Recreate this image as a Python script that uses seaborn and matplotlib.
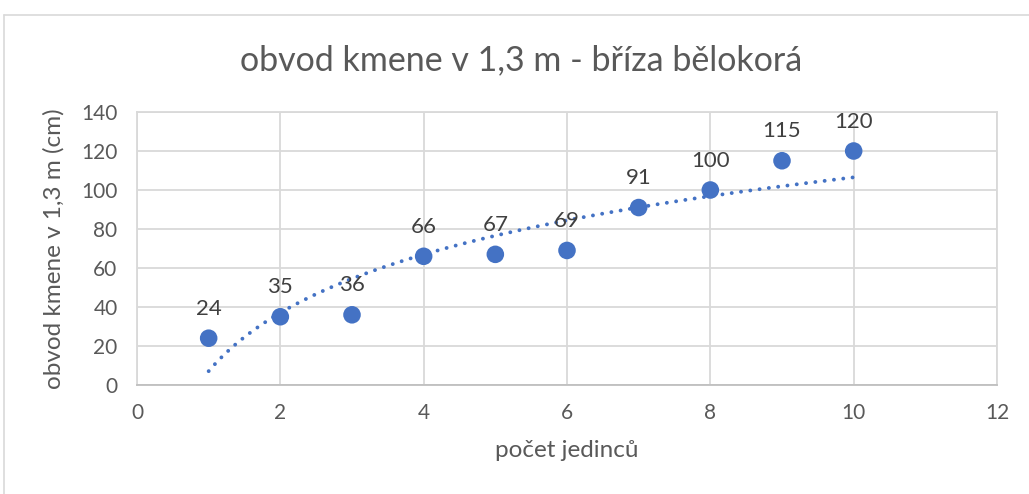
import numpy as np
import pandas as pd
import matplotlib
matplotlib.use("Agg")
import matplotlib.pyplot as plt
from matplotlib.lines import Line2D
import seaborn as sns

# Data
x_vals = [1, 2, 3, 4, 5, 6, 7, 8, 9, 10]
y_vals = [24, 35, 36, 66, 67, 69, 91, 100, 115, 120]
title = "obvod kmene v 1,3 m - bříza bělokorá"
xlabel = "počet jedinců"
ylabel = "obvod kmene v 1,3 m (cm)"
x_ticks = [0, 2, 4, 6, 8, 10, 12]
y_ticks = [0, 20, 40, 60, 80, 100, 120, 140]

sns.set_theme(style="whitegrid")
plt.rcParams['font.family'] = ['Lato', 'DejaVu Sans']

blue = "#4472C4"
grey_text = "#595959"
grid_c = "#d9d9d9"

df = pd.DataFrame({"x": x_vals, "y": y_vals})

fig = plt.figure(figsize=(10.29, 4.94), dpi=100)
ax = fig.add_axes([137/1029, 1 - 385/494, (997-137)/1029, (385-112)/494])

# logarithmic trendline (least squares fit of y on ln x)
b, a = np.polyfit(np.log(df["x"]), df["y"], 1)
xt = np.linspace(min(x_vals), max(x_vals), 200)
yt = a + b * np.log(xt)
ax.plot(xt, yt, linestyle=(0, (0.01, 2.4)), color=blue, linewidth=2.8,
        dash_capstyle="round", zorder=2)

sns.scatterplot(data=df, x="x", y="y", ax=ax, color=blue, s=160,
                edgecolor="none", zorder=3)

for xi, yi in zip(x_vals, y_vals):
    ax.annotate(str(yi), (xi, yi), xytext=(0, 14), textcoords="offset points",
                ha="center", va="bottom", fontsize=16, color="#404040")

ax.set_xlim(0, 12)
ax.set_ylim(0, 140)
ax.set_xticks(x_ticks)
ax.set_yticks(y_ticks)
ax.tick_params(axis="both", labelsize=15, colors=grey_text, length=0)
ax.tick_params(axis="x", pad=13)
ax.tick_params(axis="y", pad=14)
ax.set_xlabel(xlabel, fontsize=17.5, color=grey_text, labelpad=12)
ax.set_ylabel(ylabel, fontsize=17.5, color=grey_text, labelpad=12)
ax.grid(True, color=grid_c, linewidth=1.3)
for s in ax.spines.values():
    s.set_visible(True)
    s.set_color(grid_c)
    s.set_linewidth(1.3)
ax.spines["bottom"].set_color("#bfbfbf")
ax.set_facecolor("white")

fig.text(521/1029, 1 - 60/494, title, ha="center", va="center",
         fontsize=24.5, color=grey_text)

# chart area border (top and left visible)
fig.add_artist(Line2D([4/1029, 1], [1 - 15/494, 1 - 15/494], color=grid_c,
                      linewidth=1.2, transform=fig.transFigure))
fig.add_artist(Line2D([4/1029, 4/1029], [0, 1 - 15/494], color=grid_c,
                      linewidth=1.2, transform=fig.transFigure))

fig.savefig("out.png", dpi=100)
